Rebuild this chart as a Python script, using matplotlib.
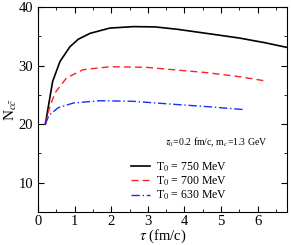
import numpy as np
import matplotlib.pyplot as plt
from matplotlib.ticker import MultipleLocator

plt.rcParams['font.family'] = ['Liberation Serif', 'DejaVu Serif']
plt.rcParams['mathtext.fontset'] = 'stix'

# T0 = 750 MeV
tau750 = [0.2, 0.4, 0.6, 0.87, 1.1, 1.42, 1.96, 2.6, 3.2, 3.8, 4.6, 5.5, 6.2, 6.8]
n750 = [20.0, 27.3, 30.7, 33.2, 34.5, 35.5, 36.4, 36.65, 36.6, 36.2, 35.5, 34.7, 33.9, 33.1]
# T0 = 700 MeV
tau700 = [0.2, 0.3, 0.46, 0.78, 1.23, 1.96, 2.96, 3.68, 4.6, 5.5, 6.19]
n700 = [20.0, 22.5, 25.3, 27.9, 29.3, 29.8, 29.7, 29.3, 28.8, 28.1, 27.4]
# T0 = 630 MeV
tau630 = [0.2, 0.3, 0.55, 0.96, 1.69, 2.6, 3.68, 4.6, 5.6]
n630 = [20.0, 21.5, 22.8, 23.6, 24.0, 23.9, 23.4, 23.0, 22.5]

fig = plt.figure(figsize=(2.91, 2.45), dpi=100)
ax = fig.add_axes([0.1306, 0.1347, 0.8557, 0.8367])

ax.plot(tau750, n750, color='k', lw=1.2, label=r'T$_0$ = 750 MeV')
ax.plot(tau700, n700, color='#ff2020', lw=1.0, ls=(0, (5, 3)), label=r'T$_0$ = 700 MeV')
ax.plot(tau630, n630, color='#1030ff', lw=1.0, ls=(0, (6, 2, 1, 2)), label=r'T$_0$ = 630 MeV')

ax.set_xlim(0, 6.8)
ax.set_ylim(5, 40)
ax.xaxis.set_major_locator(MultipleLocator(1))
ax.xaxis.set_minor_locator(MultipleLocator(0.5))
ax.yaxis.set_major_locator(MultipleLocator(10))
ax.yaxis.set_minor_locator(MultipleLocator(5))
ax.tick_params(which='both', direction='in', top=True, right=True, labelsize=10.5)
ax.tick_params(axis='x', pad=2)
ax.tick_params(which='major', length=4)
ax.tick_params(which='minor', length=2)
ax.set_xlabel(r'$\tau$ (fm/c)', fontsize=10.5, labelpad=0)
ax.set_ylabel(r'N$_{c\bar{c}}$', fontsize=11, labelpad=0)

ax.text(0.51, 0.325, r'$\tau_0$=0.2 fm/c, m$_c$=1.3 GeV', transform=ax.transAxes, fontsize=7)
ax.legend(loc='lower left', bbox_to_anchor=(0.33, -0.005), frameon=False, fontsize=8.5,
          handlelength=1.6, handletextpad=0.5, labelspacing=0.08)

fig.savefig('out.png', dpi=100)
